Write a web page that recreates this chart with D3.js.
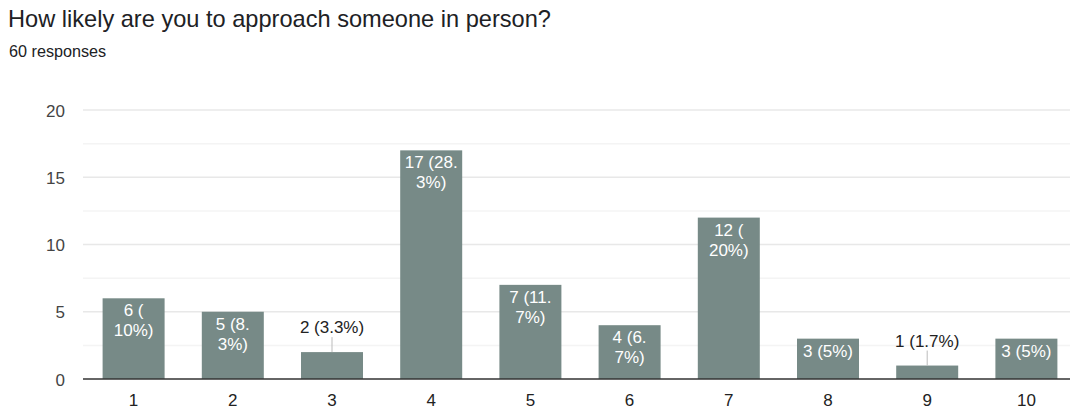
<!DOCTYPE html>
<html>
<head>
<meta charset="utf-8">
<script src="https://cdn.jsdelivr.net/npm/d3@7"></script>
<style>
  html, body { margin: 0; padding: 0; background: #fff; }
  svg { display: block; font-family: Arial, "Liberation Sans", sans-serif; }
</style>
</head>
<body>
<svg id="chart" width="1070" height="411"></svg>
<script>
// Survey question and responses
const title = "How likely are you to approach someone in person?";
const subtitle = "60 responses";
const categories = ["1", "2", "3", "4", "5", "6", "7", "8", "9", "10"];
const counts = [6, 5, 2, 17, 7, 4, 12, 3, 1, 3];
const percents = ["10%", "8.3%", "3.3%", "28.3%", "11.7%", "6.7%", "20%", "5%", "1.7%", "5%"];
const yTicks = [0, 5, 10, 15, 20];

const svg = d3.select("#chart");
const plot = { left: 83, right: 1070, top: 110, bottom: 379 };

svg.append("text")
  .attr("x", 8).attr("y", 27)
  .attr("font-size", 23.6).attr("fill", "#202124")
  .text(title);
svg.append("text")
  .attr("x", 9).attr("y", 57)
  .attr("font-size", 16.2).attr("fill", "#202124")
  .text(subtitle);

const x = d3.scaleBand()
  .domain(categories)
  .range([84, 1076])
  .paddingInner(0.375)
  .paddingOuter(0.1875);

const y = d3.scaleLinear().domain([0, 20]).range([plot.bottom, plot.top]);

// minor and major gridlines
const minor = d3.range(2.5, 20, 5);
svg.append("g").selectAll("line").data(minor).join("line")
  .attr("x1", plot.left).attr("x2", plot.right)
  .attr("y1", d => y(d)).attr("y2", d => y(d))
  .attr("stroke", "#f4f4f4").attr("stroke-width", 1.5);
svg.append("g").selectAll("line").data(yTicks.slice(1)).join("line")
  .attr("x1", plot.left).attr("x2", plot.right)
  .attr("y1", d => y(d)).attr("y2", d => y(d))
  .attr("stroke", "#e8e8e8").attr("stroke-width", 1.5);

// y axis labels
const yAxis = svg.append("g")
  .attr("transform", `translate(${plot.left - 18},0)`)
  .call(d3.axisLeft(y).tickValues(yTicks).tickSize(0).tickPadding(0));
yAxis.select(".domain").remove();
yAxis.selectAll("text")
  .attr("font-size", 17).attr("fill", "#444").attr("font-family", null)
  .attr("dy", "0.36em");

// x axis labels
const xAxis = svg.append("g")
  .attr("transform", `translate(0,${plot.bottom})`)
  .call(d3.axisBottom(x).tickSize(0).tickPadding(0));
xAxis.select(".domain").remove();
xAxis.selectAll("text")
  .attr("font-size", 17).attr("fill", "#222").attr("font-family", null)
  .attr("dy", null).attr("y", 27);

// bars
const data = categories.map((c, i) => ({ cat: c, v: counts[i], label: `${counts[i]} (${percents[i]})` }));
svg.append("g").selectAll("rect").data(data).join("rect")
  .attr("x", d => x(d.cat))
  .attr("y", d => y(d.v))
  .attr("width", x.bandwidth())
  .attr("height", d => y(0) - y(d.v))
  .attr("fill", "#778a87");

// baseline
svg.append("line")
  .attr("x1", plot.left).attr("x2", plot.right)
  .attr("y1", y(0)).attr("y2", y(0))
  .attr("stroke", "#333").attr("stroke-width", 1.6);

// value labels: wrapped inside the bar when they fit, otherwise above with a leader line
const fontSize = 17, lineH = 20;
const measure = svg.append("text").attr("font-size", fontSize).attr("visibility", "hidden");
function widthOf(s) { measure.text(s); return measure.node().getComputedTextLength(); }
function wrap(s, maxW) {
  // break opportunities after a space, "(" or "."
  const parts = s.match(/[^ (.]*[ (.]?/g).filter(p => p.length);
  const lines = [];
  let cur = "";
  parts.forEach(p => {
    if (cur && widthOf((cur + p).trimEnd()) > maxW) { lines.push(cur.trimEnd()); cur = p; }
    else cur += p;
  });
  if (cur) lines.push(cur.trimEnd());
  return lines;
}

const labels = svg.append("g");
data.forEach(d => {
  const cx = x(d.cat) + x.bandwidth() / 2;
  const top = y(d.v);
  const h = y(0) - top;
  const lines = wrap(d.label, x.bandwidth() - 4);
  if (lines.length * lineH + 2 <= h) {
    const t = labels.append("text")
      .attr("text-anchor", "middle").attr("font-size", fontSize).attr("fill", "#fff");
    lines.forEach((ln, i) => t.append("tspan").attr("x", cx).attr("y", top + 18 + i * lineH).text(ln));
  } else {
    labels.append("line")
      .attr("x1", cx).attr("x2", cx)
      .attr("y1", top - 15).attr("y2", top)
      .attr("stroke", "#bbb").attr("stroke-width", 1);
    labels.append("text")
      .attr("x", cx).attr("y", top - 19)
      .attr("text-anchor", "middle").attr("font-size", fontSize).attr("fill", "#222")
      .text(d.label);
  }
});
measure.remove();
</script>
</body>
</html>
